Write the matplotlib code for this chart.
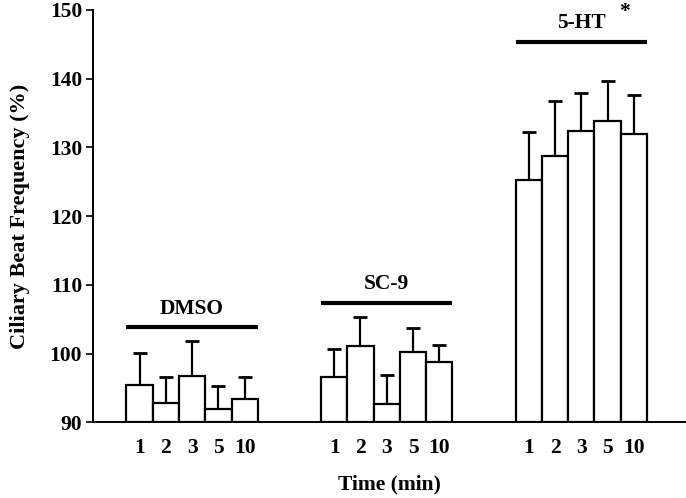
import matplotlib
matplotlib.use("Agg")
import matplotlib.pyplot as plt
import numpy as np

plt.rcParams['font.family'] = ['Liberation Serif', 'DejaVu Serif']
plt.rcParams['font.weight'] = 'bold'

groups = ["DMSO", "SC-9", "5-HT"]
time_labels = ["1", "2", "3", "5", "10"]
dmso_mean = [95.4, 92.8, 96.75, 91.95, 93.35]
dmso_err = [4.7, 3.8, 5.1, 3.3, 3.25]
sc9_mean = [96.6, 101.1, 92.6, 100.25, 98.75]
sc9_err = [4.1, 4.25, 4.35, 3.5, 2.45]
ht_mean = [125.3, 128.75, 132.45, 133.85, 132.0]
ht_err = [7.0, 7.95, 5.45, 5.85, 5.6]
group_line_y = [103.8, 107.4, 145.3]

means = [dmso_mean, sc9_mean, ht_mean]
errs = [dmso_err, sc9_err, ht_err]

FS = 15.5

fig = plt.figure(figsize=(6.86, 4.98), dpi=100)
ax = fig.add_axes([93.3/686, (498-422.3)/498, (686-93.3)/686, (422.3-10)/498])

group_step = 7.4
xticks = []
xticklabels = []
for g, (m, e) in enumerate(zip(means, errs)):
    x = g*group_step + np.arange(len(m))
    ax.bar(x, np.array(m) - 90, bottom=90, width=1.0, color='white',
           edgecolor='black', linewidth=1.6, zorder=2)
    ax.errorbar(x, m, yerr=[np.zeros(len(e)), e], fmt='none', ecolor='black',
                elinewidth=1.6, capsize=5, capthick=2, zorder=1)
    ax.plot([x[0]-0.5, x[-1]+0.5], [group_line_y[g]]*2, color='black', lw=3,
            solid_capstyle='butt', clip_on=False)
    ax.annotate(groups[g], xy=(x.mean(), group_line_y[g]), xytext=(0, 10),
                textcoords='offset points', ha='center', va='baseline',
                fontsize=FS, fontweight='bold')
    xticks.extend(x)
    xticklabels.extend(time_labels)

# asterisk for 5-HT
x_ht = 2*group_step + np.arange(5)
ax.annotate('*', xy=(x_ht.mean(), group_line_y[2]), xytext=(31, 18),
            textcoords='offset points', ha='center', va='baseline',
            fontsize=FS, fontweight='bold')

ax.set_xlim(-1.76, 20.78)
ax.set_ylim(90, 150)
ax.set_yticks(np.arange(90, 151, 10))
ax.set_xticks(xticks)
ax.set_xticklabels(xticklabels)
ax.tick_params(axis='x', length=0, pad=11, labelsize=FS)
ax.tick_params(axis='y', length=5, width=1.2, direction='out', labelsize=FS, pad=3)
for lab in ax.get_xticklabels() + ax.get_yticklabels():
    lab.set_fontweight('bold')

ax.spines['top'].set_visible(False)
ax.spines['right'].set_visible(False)
ax.spines['left'].set_linewidth(1.4)
ax.spines['bottom'].set_linewidth(1.4)

ax.set_xlabel('Time (min)', fontsize=FS, fontweight='bold', labelpad=12)
ax.set_ylabel('Ciliary Beat Frequency (%)', fontsize=16, fontweight='bold', labelpad=14)

fig.savefig('out.png', dpi=100)
